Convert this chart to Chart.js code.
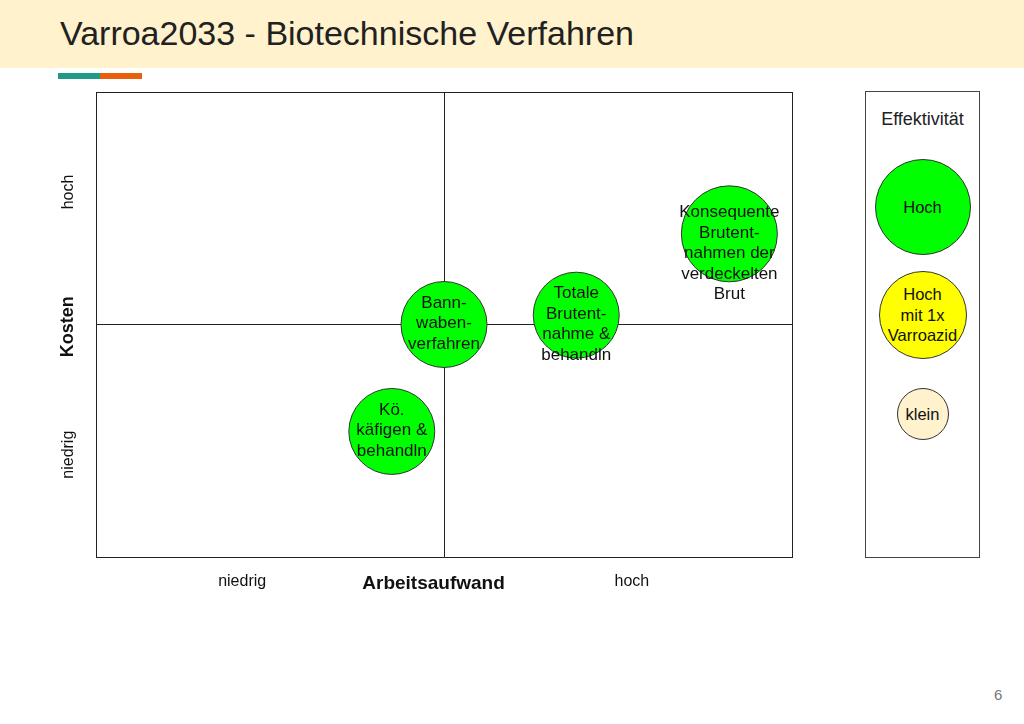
<html>

<head>
    <title>Varroa2033 - Biotechnische Verfahren</title>
    <script src="https://cdn.jsdelivr.net/npm/chart.js@4.4.1/dist/chart.umd.min.js"></script>
    <style>
        body { margin: 0; width: 1024px; height: 724px; background: #fff; font-family: "Liberation Sans", Arial, sans-serif; position: relative; overflow: hidden; }
        .header { position: absolute; left: 0; top: 0; width: 1024px; height: 68px; background: #fff2cc; }
        .header h1 { position: absolute; left: 60px; top: 13px; margin: 0; font-size: 34px; font-weight: normal; color: #212121; line-height: 40px; }
        .bar { position: absolute; top: 73px; height: 6px; width: 42px; }
        .wrap { position: absolute; left: 0; top: 43px; width: 841px; height: 577px; }
        .legend { position: absolute; left: 865px; top: 91px; width: 113px; height: 465px; border: 1px solid #444; }
        .legend .title { position: absolute; left: 0; width: 113px; top: 16px; text-align: center; font-size: 18px; color: #222; line-height: 22px; }
        .dot { position: absolute; border: 1px solid #333; border-radius: 50%; display: flex; align-items: center; justify-content: center; text-align: center; font-size: 16.5px; line-height: 20.5px; color: #111; box-sizing: border-box; }
        .page { position: absolute; left: 994px; top: 686px; font-size: 15px; color: #777; }
    </style>
</head>

<body>
    <div class="header"><h1>Varroa2033 - Biotechnische Verfahren</h1></div>
    <div class="bar" style="left:58px;background:#1f9a88"></div>
    <div class="bar" style="left:100px;background:#ea5f0c"></div>
    <div class="wrap"><canvas id="matrixChart"></canvas></div>
    <div class="legend" id="legend"><div class="title">Effektivität</div></div>
    <div class="page">6</div>
    <script>
        // Massnahmen (Arbeitsaufwand x, Kosten y, Blasengroesse r)
        var massnahmen = [
            ["Kö.", "käfigen &", "behandln"],
            ["Bann-", "waben-", "verfahren"],
            ["Totale", "Brutent-", "nahme &", "behandln"],
            ["Konsequente", "Brutent-", "nahmen der", "verdeckelten", "Brut"]
        ];
        var arbeitsaufwand = [0.85, 1.0, 1.38, 1.82];
        var kosten = [0.54, 1.0, 1.04, 1.39];
        var blasenRadius = [43, 43, 43, 48];
        var effektivitaet = ["Hoch", "Hoch", "Hoch", "Hoch"];

        var quadrantLines = [0, 1, 2];
        var xLabelValues = [0.42, 0.97, 1.54];
        var xLabels = ["niedrig", "Arbeitsaufwand", "hoch"];
        var yLabelValues = [0.44, 0.99, 1.57];
        var yLabels = ["niedrig", "Kosten", "hoch"];

        // Legende
        var legendLabels = [["Hoch"], ["Hoch", "mit 1x", "Varroazid"], ["klein"]];
        var legendColors = ["#00ff00", "#ffff00", "#fff2cc"];
        var legendRadius = [48, 44, 26];
        var legendCenterY = [115, 223, 322];

        var effektColor = { "Hoch": "#00ff00", "Hoch mit 1x Varroazid": "#ffff00", "klein": "#fff2cc" };

        var legend = document.getElementById("legend");
        legendLabels.forEach(function (lines, i) {
            var d = document.createElement("div");
            d.className = "dot";
            var r = legendRadius[i];
            d.style.width = (2 * r) + "px";
            d.style.height = (2 * r) + "px";
            d.style.left = (56.5 - r) + "px";
            d.style.top = (legendCenterY[i] - r) + "px";
            d.style.background = legendColors[i];
            d.innerHTML = lines.join("<br>");
            legend.appendChild(d);
        });

        function makeTicks(extra) {
            return quadrantLines.concat(extra).sort(function (a, b) { return a - b; }).map(function (v) { return { value: v }; });
        }

        var bubbleText = {
            id: "bubbleText",
            afterDatasetsDraw: function (chart) {
                var ctx = chart.ctx;
                var meta = chart.getDatasetMeta(0);
                ctx.save();
                ctx.font = "17px 'Liberation Sans', Arial, sans-serif";
                ctx.fillStyle = "#111";
                ctx.textAlign = "center";
                ctx.textBaseline = "middle";
                meta.data.forEach(function (el, i) {
                    massnahmen[i].forEach(function (line, j) {
                        ctx.fillText(line, el.x, el.y - 21.5 + j * 20.5);
                    });
                });
                ctx.restore();
            }
        };

        var ctx1 = document.getElementById("matrixChart");
        var matrixChart = new Chart(ctx1, {
            type: "bubble",
            data: {
                datasets: [{
                    label: "Biotechnische Verfahren",
                    data: arbeitsaufwand.map(function (x, i) {
                        return { x: x, y: kosten[i], r: blasenRadius[i] };
                    }),
                    backgroundColor: effektivitaet.map(function (e) { return effektColor[e]; }),
                    borderColor: "#333",
                    borderWidth: 1
                }]
            },
            options: {
                responsive: true,
                maintainAspectRatio: false,
                animation: false,
                layout: { padding: { top: 49, right: 49, left: 0, bottom: 0 } },
                plugins: { legend: { display: false }, tooltip: { enabled: false } },
                scales: {
                    x: {
                        type: "linear", min: 0, max: 2,
                        afterBuildTicks: function (s) { s.ticks = makeTicks(xLabelValues); },
                        afterFit: function (s) { s.height = 63; },
                        border: { color: "#222", width: 1 },
                        grid: {
                            drawTicks: false,
                            color: function (c) { return c.tick && quadrantLines.indexOf(c.tick.value) >= 0 ? "#222" : "rgba(0,0,0,0)"; }
                        },
                        ticks: {
                            autoSkip: false, maxRotation: 0, minRotation: 0, padding: 15, color: "#111",
                            callback: function (v) { var i = xLabelValues.indexOf(v); return i < 0 ? "" : xLabels[i]; },
                            font: function (c) {
                                var b = c.tick && c.tick.value === 0.97;
                                return { family: "'Liberation Sans', Arial, sans-serif", size: b ? 19 : 16, weight: b ? "bold" : "normal" };
                            }
                        }
                    },
                    y: {
                        type: "linear", min: 0, max: 2,
                        afterBuildTicks: function (s) { s.ticks = makeTicks(yLabelValues); },
                        afterFit: function (s) { s.width = 96; },
                        border: { color: "#222", width: 1 },
                        grid: {
                            drawTicks: false,
                            color: function (c) { return c.tick && quadrantLines.indexOf(c.tick.value) >= 0 ? "#222" : "rgba(0,0,0,0)"; }
                        },
                        ticks: {
                            autoSkip: false, minRotation: 90, maxRotation: 90, padding: -3, crossAlign: "center", color: "#111",
                            callback: function (v) { var i = yLabelValues.indexOf(v); return i < 0 ? "" : yLabels[i]; },
                            font: function (c) {
                                var b = c.tick && c.tick.value === 0.99;
                                return { family: "'Liberation Sans', Arial, sans-serif", size: b ? 18 : 16, weight: b ? "bold" : "normal" };
                            }
                        }
                    }
                }
            },
            plugins: [bubbleText]
        });
    </script>
</body>

</html>
